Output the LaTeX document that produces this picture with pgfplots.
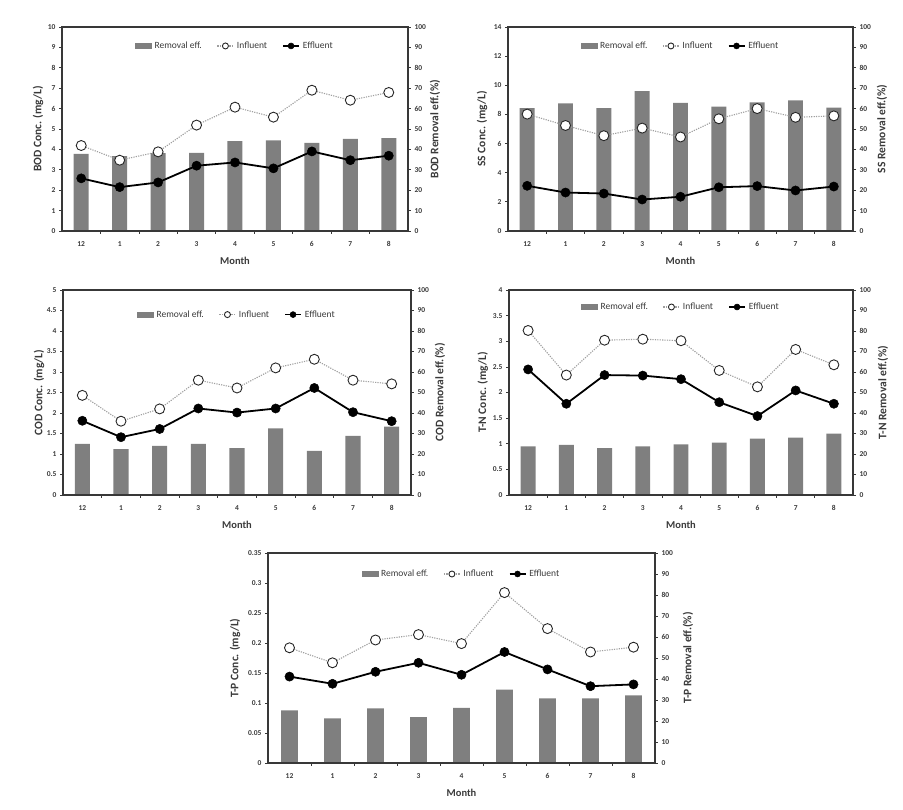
\documentclass[border=0pt]{standalone}
\usepackage{fontspec}
\setmainfont{Carlito}
\usepackage{pgfplots}
\pgfplotsset{compat=1.18}
\usepackage{pgfplotstable}
\definecolor{bargray}{HTML}{7F7F7F}
\definecolor{txt}{HTML}{3A3A3A}
\definecolor{axcol}{HTML}{383838}

\pgfplotstableread{
x bar inf eff
0 37.8 4.19 2.58
1 36.7 3.47 2.15
2 38.2 3.88 2.38
3 38.3 5.19 3.20
4 44.0 6.07 3.36
5 44.4 5.58 3.07
6 43.2 6.90 3.90
7 45.2 6.41 3.47
8 45.5 6.79 3.69
}\bod
\pgfplotstableread{
x bar inf eff
0 60.2 8.02 3.10
1 62.6 7.24 2.64
2 60.2 6.54 2.57
3 68.5 7.06 2.16
4 62.8 6.45 2.35
5 61.0 7.70 3.00
6 63.0 8.40 3.08
7 64.0 7.80 2.78
8 60.5 7.90 3.05
}\ss
\pgfplotstableread{
x bar inf eff
0 24.9 2.43 1.81
1 22.4 1.80 1.41
2 23.9 2.10 1.61
3 24.9 2.80 2.11
4 22.9 2.61 2.01
5 32.5 3.10 2.11
6 21.5 3.31 2.61
7 28.8 2.80 2.02
8 33.3 2.71 1.80
}\cod
\pgfplotstableread{
x bar inf eff
0 23.7 3.21 2.45
1 24.4 2.34 1.78
2 22.9 3.02 2.34
3 23.7 3.04 2.33
4 24.7 3.01 2.26
5 25.5 2.43 1.81
6 27.5 2.11 1.54
7 28.0 2.84 2.04
8 29.9 2.54 1.78
}\tn
\pgfplotstableread{
x bar inf eff
0 25.1 0.192 0.144
1 21.3 0.167 0.132
2 26.0 0.205 0.152
3 21.9 0.214 0.167
4 26.2 0.199 0.147
5 34.9 0.284 0.185
6 30.8 0.224 0.156
7 30.8 0.185 0.128
8 32.2 0.193 0.131
}\tp

\pgfplotsset{
  base/.style={scale only axis, anchor=south west,
    xmin=-0.5, xmax=8.5, ymin=0,
    tick align=outside, major tick length=3pt,
    tick style={axcol, line width=0.7pt},
    ticklabel style={font=\bfseries\fontsize{7.5}{8}\selectfont, text=txt},
    /pgf/number format/assume math mode=true,
    label style={font=\bfseries\fontsize{10.5}{12}\selectfont, text=txt},
    ylabel style={font=\bfseries\fontsize{11.5}{12}\selectfont},
    axis line style={axcol, line width=1.1pt},
    clip=false},
  barax/.style={base, axis x line=none, axis y line*=right, ymax=100,
    ytick={0,10,...,100}},
  lineax/.style={base, ytick pos=left, xtick pos=bottom,
    xtick={0,...,8}, xticklabels={12,1,2,3,4,5,6,7,8},
    major x tick style={draw=none},
    minor xtick={0.5,1.5,...,7.5}, minor tick length=3pt,
    xticklabel style={yshift=-4pt},
    xlabel={Month},
    xlabel style={at={(axis description cs:0.5,0)}, anchor=center, yshift=-30pt},
    legend columns=3,
    legend style={draw=none, fill=none, font=\fontsize{9.5}{10}\selectfont, text=txt,
      anchor=center, /tikz/every even column/.append style={column sep=13pt},
      /tikz/every odd column/.append style={column sep=1pt}}},
  barplot/.style={ybar, bar width=0.39, fill=bargray, draw=none},
  influent/.style={color=gray!75, dash pattern=on 1.2pt off 1.2pt, line width=1.1pt,
    mark=*, mark size=5pt, mark options={solid, fill=white, draw=black!85, line width=0.9pt},
    legend image code/.code={\draw[mark repeat=2,mark phase=2,mark size=3pt] plot coordinates {(0pt,0pt) (8pt,0pt) (16pt,0pt)};}},
  effluent/.style={color=black, line width=1.8pt,
    mark=*, mark size=4.6pt, mark options={fill=black, draw=black, line width=0.5pt},
    legend image code/.code={\draw[mark repeat=2,mark phase=2,mark size=3pt] plot coordinates {(0pt,0pt) (8pt,0pt) (16pt,0pt)};}},
}
\newcommand{\barlegend}{\addlegendimage{legend image code/.code={\fill[bargray] (0pt,-2.5pt) rectangle (16pt,2.5pt);}}}

\begin{document}
\begin{tikzpicture}
\path[use as bounding box] (0pt,0pt) rectangle (903pt,810pt);

% ---------- BOD ----------
\begin{axis}[barax, at={(62pt,579pt)}, width=346pt, height=204pt,
  ylabel={BOD Removal eff.(\%)},
  ylabel style={at={(axis description cs:1.078,0.5)}, anchor=center}]
\addplot[barplot] table[x=x,y=bar]{\bod};
\end{axis}
\begin{axis}[lineax, at={(62pt,579pt)}, width=346pt, height=204pt,
  ymax=10, ytick={0,1,...,10},
  ylabel={BOD Conc. (mg/L)},
  ylabel style={at={(axis description cs:-0.069,0.5)}, anchor=center},
  legend style={at={(axis description cs:0.5,0.907)}}]
\barlegend
\addplot[influent] table[x=x,y=inf]{\bod};
\addplot[effluent] table[x=x,y=eff]{\bod};
\legend{Removal eff.,Influent,Effluent}
\end{axis}

% ---------- SS ----------
\begin{axis}[barax, at={(508pt,579pt)}, width=345pt, height=204pt,
  ylabel={SS Removal eff.(\%)},
  ylabel style={at={(axis description cs:1.084,0.5)}, anchor=center}]
\addplot[barplot] table[x=x,y=bar]{\ss};
\end{axis}
\begin{axis}[lineax, at={(508pt,579pt)}, width=345pt, height=204pt,
  ymax=14, ytick={0,2,...,14},
  ylabel={SS Conc. (mg/L)},
  ylabel style={at={(axis description cs:-0.075,0.5)}, anchor=center},
  legend style={at={(axis description cs:0.5,0.907)}}]
\barlegend
\addplot[influent] table[x=x,y=inf]{\ss};
\addplot[effluent] table[x=x,y=eff]{\ss};
\legend{Removal eff.,Influent,Effluent}
\end{axis}

% ---------- COD ----------
\begin{axis}[barax, at={(63pt,315pt)}, width=348pt, height=205pt,
  ylabel={COD Removal eff.(\%)},
  ylabel style={at={(axis description cs:1.083,0.5)}, anchor=center}]
\addplot[barplot] table[x=x,y=bar]{\cod};
\end{axis}
\begin{axis}[lineax, at={(63pt,315pt)}, width=348pt, height=205pt,
  ymax=5, ytick={0,0.5,...,5}, yticklabels={0,0.5,1,1.5,2,2.5,3,3.5,4,4.5,5},
  ylabel={COD Conc. (mg/L)},
  ylabel style={at={(axis description cs:-0.069,0.5)}, anchor=center},
  legend style={at={(axis description cs:0.5,0.88)}}]
\barlegend
\addplot[influent] table[x=x,y=inf]{\cod};
\addplot[effluent] table[x=x,y=eff]{\cod};
\legend{Removal eff.,Influent,Effluent}
\end{axis}

% ---------- T-N ----------
\begin{axis}[barax, at={(509pt,315pt)}, width=344pt, height=205pt,
  ylabel={T-N Removal eff.(\%)},
  ylabel style={at={(axis description cs:1.087,0.5)}, anchor=center}]
\addplot[barplot] table[x=x,y=bar]{\tn};
\end{axis}
\begin{axis}[lineax, at={(509pt,315pt)}, width=344pt, height=205pt,
  ymax=4, ytick={0,0.5,...,4}, yticklabels={0,0.5,1,1.5,2,2.5,3,3.5,4},
  ylabel={T-N Conc. (mg/L)},
  ylabel style={at={(axis description cs:-0.076,0.5)}, anchor=center},
  legend style={at={(axis description cs:0.5,0.917)}}]
\barlegend
\addplot[influent] table[x=x,y=inf]{\tn};
\addplot[effluent] table[x=x,y=eff]{\tn};
\legend{Removal eff.,Influent,Effluent}
\end{axis}

% ---------- T-P ----------
\begin{axis}[barax, at={(268pt,47pt)}, width=387pt, height=210pt,
  ylabel={T-P Removal eff.(\%)},
  ylabel style={at={(axis description cs:1.085,0.5)}, anchor=center}]
\addplot[barplot] table[x=x,y=bar]{\tp};
\end{axis}
\begin{axis}[lineax, at={(268pt,47pt)}, width=387pt, height=210pt,
  ymax=0.35, ytick={0,0.05,0.1,0.15,0.2,0.25,0.3,0.35},
  yticklabels={0,0.05,0.1,0.15,0.2,0.25,0.3,0.35},
  ylabel={T-P Conc. (mg/L)},
  ylabel style={at={(axis description cs:-0.085,0.5)}, anchor=center},
  legend style={at={(axis description cs:0.5,0.9)}}]
\barlegend
\addplot[influent] table[x=x,y=inf]{\tp};
\addplot[effluent] table[x=x,y=eff]{\tp};
\legend{Removal eff.,Influent,Effluent}
\end{axis}
\end{tikzpicture}
\end{document}
